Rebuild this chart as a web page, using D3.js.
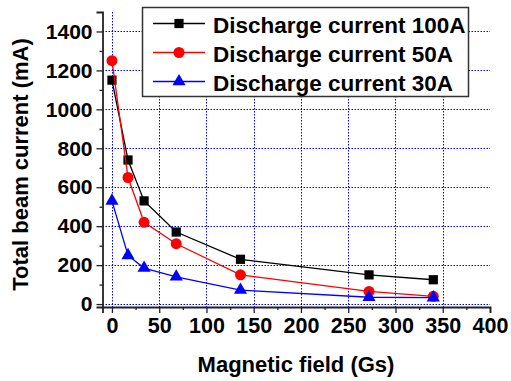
<!DOCTYPE html>
<html><head><meta charset="utf-8">
<script src="https://cdn.jsdelivr.net/npm/d3@7"></script>
<style>body{margin:0;background:#fff}svg{display:block}text{font-family:"Liberation Sans",Arial,sans-serif;font-weight:bold;fill:#000}</style>
</head><body>
<script>
const fieldGs = [0, 17, 34, 68, 136, 272, 340];
const current100A = [1150, 740, 530, 370, 230, 150, 125];
const current50A = [1250, 650, 420, 310, 150, 65, 40];
const current30A = [530, 250, 185, 140, 72, 35, 33];
const seriesNames = ["Discharge current 100A", "Discharge current 50A", "Discharge current 30A"];
const xTicks = [0, 50, 100, 150, 200, 250, 300, 350, 400];
const yTicks = [0, 200, 400, 600, 800, 1000, 1200, 1400];

const W = 511, H = 381;
const svg = d3.select("body").append("svg").attr("width", W).attr("height", H);
const x = d3.scaleLinear().domain([-10, 400]).range([102.5, 490]);
const y = d3.scaleLinear().domain([-15, 1500]).range([307, 12]);

const series = [
  {name: seriesNames[0], vals: current100A, color: "#000000", shape: d3.symbolSquare, size: 85},
  {name: seriesNames[1], vals: current50A, color: "#ff0000", shape: d3.symbolCircle, size: 95},
  {name: seriesNames[2], vals: current30A, color: "#0000ff", shape: d3.symbolTriangle, size: 75}
];

// grid
const grid = svg.append("g").attr("stroke", "#0000ff").attr("stroke-width", 1).attr("stroke-dasharray", "1.5,1.5");
grid.selectAll(".gx").data(xTicks.filter(d => d < 400)).join("line")
  .attr("x1", d => Math.round(x(d)) + 0.5).attr("x2", d => Math.round(x(d)) + 0.5)
  .attr("y1", y(1500)).attr("y2", y(-15));
grid.selectAll(".gy").data(yTicks).join("line")
  .attr("y1", d => Math.round(y(d)) + 0.5).attr("y2", d => Math.round(y(d)) + 0.5)
  .attr("x1", x(-10)).attr("x2", x(400));

// axes
const xMinor = d3.range(25, 400, 50);
const yMinor = d3.range(100, 1500, 200);
const xAxis = svg.append("g").attr("transform", `translate(0,${y(-15)})`)
  .call(d3.axisBottom(x).tickValues(xTicks).tickSize(6).tickPadding(5).tickFormat(d3.format("d")));
svg.append("g").attr("transform", `translate(0,${y(-15)})`)
  .call(d3.axisBottom(x).tickValues(xMinor).tickSize(3).tickFormat(""))
  .call(g => g.select(".domain").remove());
const yAxis = svg.append("g").attr("transform", `translate(${x(-10)},0)`)
  .call(d3.axisLeft(y).tickValues(yTicks).tickSize(6).tickPadding(4).tickFormat(d3.format("d")));
svg.append("g").attr("transform", `translate(${x(-10)},0)`)
  .call(d3.axisLeft(y).tickValues(yMinor).tickSize(3).tickFormat(""))
  .call(g => g.select(".domain").remove());
svg.selectAll(".domain").attr("stroke", "#222").attr("stroke-width", 1.8);
svg.selectAll(".tick line").attr("stroke", "#222").attr("stroke-width", 1.3);
xAxis.selectAll("text").style("font-size", "21.5px").attr("fill", "#000");
yAxis.selectAll("text").style("font-size", "21px").attr("fill", "#000");

// series
const line = d3.line().x(d => x(d[0])).y(d => y(d[1]));
series.forEach(s => {
  const pts = fieldGs.map((f, i) => [f, s.vals[i]]);
  svg.append("path").datum(pts).attr("d", line).attr("fill", "none")
    .attr("stroke", s.color).attr("stroke-width", 1.3);
  svg.append("g").selectAll("path").data(pts).join("path")
    .attr("transform", d => `translate(${x(d[0])},${y(d[1])})`)
    .attr("d", d3.symbol().type(s.shape).size(s.size))
    .attr("fill", s.color);
});

// legend
const lg = svg.append("g");
lg.append("rect").attr("x", 142.5).attr("y", 7.5).attr("width", 326).attr("height", 89)
  .attr("fill", "#fff").attr("stroke", "#333").attr("stroke-width", 1.5);
series.forEach((s, i) => {
  const ry = 23.5 + i * 29;
  lg.append("line").attr("x1", 153).attr("x2", 205).attr("y1", ry).attr("y2", ry)
    .attr("stroke", s.color).attr("stroke-width", 1.3);
  lg.append("path").attr("transform", `translate(179,${ry})`)
    .attr("d", d3.symbol().type(s.shape).size(s.size)).attr("fill", s.color);
  lg.append("text").attr("x", 213).attr("y", ry + 9).style("font-size", "22.5px").text(s.name);
});

// titles
svg.append("text").attr("x", 296).attr("y", 372).attr("text-anchor", "middle")
  .style("font-size", "22px").text("Magnetic field (Gs)");
svg.append("text").attr("transform", "translate(28,164.5) rotate(-90)").attr("text-anchor", "middle")
  .style("font-size", "22px").text("Total beam current (mA)");
</script>
</body></html>
